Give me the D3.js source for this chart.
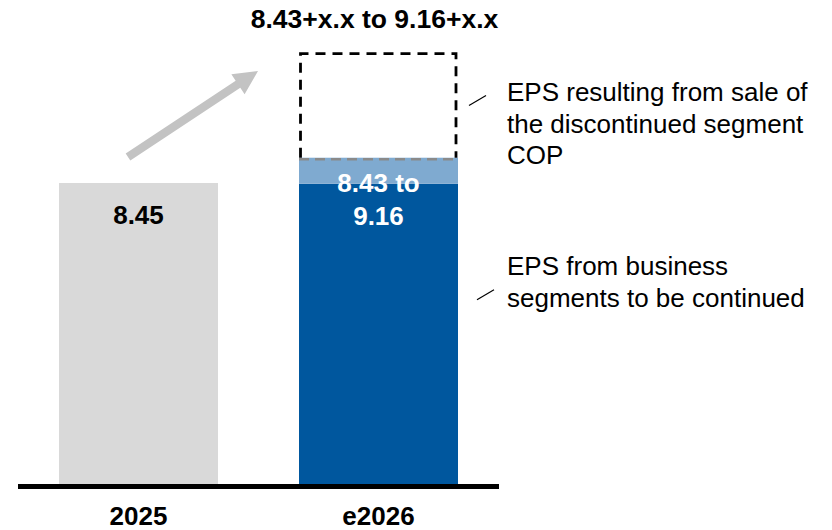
<!DOCTYPE html>
<html>
<head>
<meta charset="utf-8">
<script src="https://cdn.jsdelivr.net/npm/d3@7"></script>
<style>
  html, body { margin: 0; padding: 0; background: #fff; }
  svg text { font-family: "Liberation Sans", Arial, sans-serif; }
</style>
</head>
<body>
<svg id="chart" width="832" height="530"></svg>
<script>
// EPS bridge: reported 2025 vs. guidance range for 2026
const categories = ["2025", "e2026"];
const eps2025 = 8.45;
const guidanceLow = 8.43;      // continued segments, low end
const guidanceHigh = 9.16;     // continued segments, high end
const saleUpside = 2.92;       // placeholder height for sale of COP (x.x)
const barLabels = ["8.45", "8.43 to\n9.16"];
const headline = "8.43+x.x to 9.16+x.x";
const notes = [
  { lines: ["EPS resulting from sale of", "the discontinued segment", "COP"], value: guidanceHigh + saleUpside * 0.55 },
  { lines: ["EPS from business", "segments to be continued"], value: guidanceLow * 0.63 }
];

const svg = d3.select("#chart");
const base = 484;
const x = d3.scaleBand().domain(categories).range([35, 482]).paddingInner(0.3375).paddingOuter(0.1);
const y = d3.scaleLinear().domain([0, 12]).range([base, base - 12 * 35.62]);
const bw = x.bandwidth();

// 2025 bar
svg.append("rect")
  .attr("x", x("2025")).attr("y", y(eps2025))
  .attr("width", bw).attr("height", y(0) - y(eps2025))
  .attr("fill", "#d9d9d9");

// e2026: continued segments and guidance range band
svg.append("rect")
  .attr("x", x("e2026")).attr("y", y(guidanceLow))
  .attr("width", bw).attr("height", y(0) - y(guidanceLow))
  .attr("fill", "#00579e");
svg.append("rect")
  .attr("x", x("e2026")).attr("y", y(guidanceHigh))
  .attr("width", bw).attr("height", y(guidanceLow) - y(guidanceHigh))
  .attr("fill", "#7faad0");

// gray dashed separator on top of the range band
svg.append("line")
  .attr("x1", x("e2026")).attr("x2", x("e2026") + bw)
  .attr("y1", y(guidanceHigh) + 1.5).attr("y2", y(guidanceHigh) + 1.5)
  .attr("stroke", "#8a8a8a").attr("stroke-width", 2.5)
  .attr("stroke-dasharray", "10,6");

// dashed box for the sale proceeds
const boxTop = y(guidanceHigh + saleUpside);
svg.append("path")
  .attr("d", `M${x("e2026") + 1.5},${y(guidanceHigh)} V${boxTop} H${x("e2026") + bw - 2} V${y(guidanceHigh)}`)
  .attr("fill", "none").attr("stroke", "#000").attr("stroke-width", 2.8)
  .attr("stroke-dasharray", "10,7");

// baseline
svg.append("line")
  .attr("x1", 18).attr("x2", 499).attr("y1", base + 2.5).attr("y2", base + 2.5)
  .attr("stroke", "#000").attr("stroke-width", 5);

// category labels
svg.selectAll(".cat").data(categories).enter().append("text")
  .attr("x", d => x(d) + bw / 2).attr("y", 525)
  .attr("text-anchor", "middle").attr("font-weight", "bold")
  .attr("font-size", 26).attr("fill", "#000").text(d => d);

// value labels
svg.append("text")
  .attr("x", x("2025") + bw / 2).attr("y", 224)
  .attr("text-anchor", "middle").attr("font-weight", "bold")
  .attr("font-size", 26).attr("fill", "#000").text(barLabels[0]);
const inner = svg.append("text")
  .attr("text-anchor", "middle").attr("font-weight", "bold")
  .attr("font-size", 26).attr("fill", "#fff");
barLabels[1].split("\n").forEach((t, i) => {
  inner.append("tspan").attr("x", x("e2026") + bw / 2).attr("y", 192 + i * 33).text(t);
});

// headline range
svg.append("text")
  .attr("x", x("e2026") + bw / 2 - 4).attr("y", 28)
  .attr("text-anchor", "middle").attr("font-weight", "bold")
  .attr("font-size", 26.5).attr("fill", "#000").text(headline);

// growth arrow
const tail = [128, 157], tip = [258, 71];
const ang = Math.atan2(tip[1] - tail[1], tip[0] - tail[0]);
const len = Math.hypot(tip[0] - tail[0], tip[1] - tail[1]);
const headLen = 24, headHalf = 12, shaftHalf = 4.2;
const pts = [
  [0, -shaftHalf], [len - headLen, -shaftHalf], [len - headLen, -headHalf],
  [len, 0], [len - headLen, headHalf], [len - headLen, shaftHalf], [0, shaftHalf]
].map(([u, v]) => [tail[0] + u * Math.cos(ang) - v * Math.sin(ang), tail[1] + u * Math.sin(ang) + v * Math.cos(ang)]);
svg.append("path").attr("d", d3.line()(pts) + "Z").attr("fill", "#c3c3c3");

// annotations with leader ticks
const noteG = svg.selectAll(".note").data(notes).enter().append("g");
noteG.each(function(d, i) {
  const g = d3.select(this);
  const cy = y(d.value);
  const firstBase = i === 0 ? 101 : 275;
  g.selectAll("text").data(d.lines).enter().append("text")
    .attr("x", 507).attr("y", (t, k) => firstBase + k * 31.5)
    .attr("font-size", 26).attr("fill", "#000").text(t => t);
  const lx = i === 0 ? 469 : 477;
  g.append("line")
    .attr("x1", lx).attr("y1", cy + 5).attr("x2", lx + 17).attr("y2", cy - 5)
    .attr("stroke", "#000").attr("stroke-width", 1.2);
});
</script>
</body>
</html>
